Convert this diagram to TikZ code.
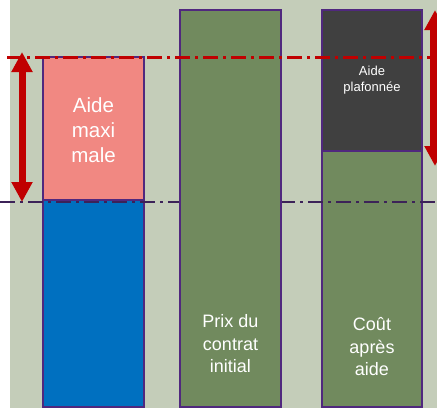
\documentclass[tikz,border=0pt]{standalone}
\usepackage{fontspec}
\setmainfont{Liberation Sans}
\usetikzlibrary{arrows.meta}
\definecolor{fond}{HTML}{C4CDB9}
\definecolor{rose}{HTML}{F18882}
\definecolor{bleu}{HTML}{0070C0}
\definecolor{vert}{HTML}{718A5E}
\definecolor{gris}{HTML}{404040}
\definecolor{bord}{HTML}{50287E}
\definecolor{rouge}{HTML}{C00000}
\definecolor{violet}{HTML}{3C2258}
\begin{document}
\begin{tikzpicture}[x=1pt,y=-1pt,
   barre/.style={draw=bord, line width=2.6pt},
   tiret/.style={line width=#1, dash pattern=on 15pt off 5pt on 3pt off 5pt},
   fleche/.style={rouge, line width=#1, {Triangle[width=20pt,length=20pt]}-{Triangle[width=20pt,length=20pt]}},
   lab/.style={text=white, align=center}]
   \useasboundingbox (0,0) rectangle (437,408);
   \clip (0,0) rectangle (437,408);
   \fill[fond] (10,0) rectangle (437,408);

   \draw[barre, fill=rose] (43,57) rectangle (144,200);
   \draw[barre, fill=bleu] (43,200) rectangle (144,407);
   \draw[barre, fill=gris] (322,10) rectangle (422,151);
   \draw[barre, fill=vert] (322,151) rectangle (422,407);

   \draw[tiret=2.6pt, violet] (0,202) -- (437,202);
   \draw[barre, fill=vert] (180,10) rectangle (281,407);
   \draw[tiret=3pt, rouge] (7,57) -- (437,57);

   \coordinate (H1) at (22,52);
   \coordinate (B1) at (22,202);
   \coordinate (H2) at (435,10);
   \coordinate (B2) at (435,166);
   \draw[fleche=7pt] (H1) -- (B1);
   \draw[fleche=10pt] (H2) -- (B2);

   \node[lab, font=\fontsize{20.5}{25}\selectfont] (maxi) at (93.5,130) {Aide\\maxi\\male};
   \node[lab, font=\fontsize{13}{16.7}\selectfont] (plaf) at (372,80) {Aide\\plafonnée};
   \node[lab, font=\fontsize{18}{22.5}\selectfont] (prix) at (230.5,344) {Prix du\\contrat\\initial};
   \node[lab, font=\fontsize{18}{22.5}\selectfont] (cout) at (372,347) {Coût\\après\\aide};

\end{tikzpicture}
\end{document}
